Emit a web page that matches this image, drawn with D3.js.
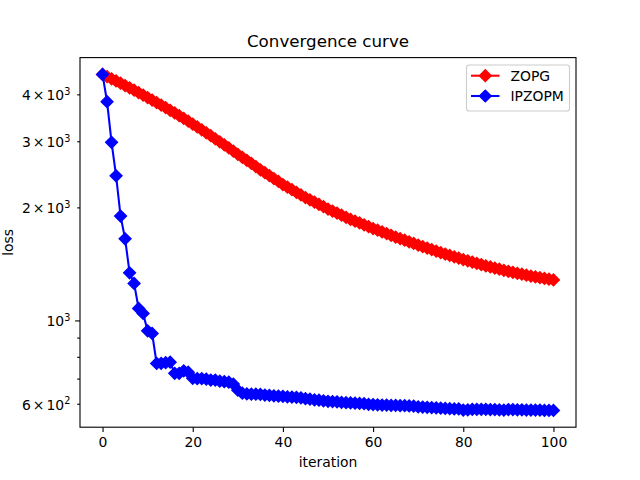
<!DOCTYPE html>
<html>
<head>
<meta charset="utf-8">
<script src="https://cdn.jsdelivr.net/npm/d3@7"></script>
<style>
  body { margin: 0; background: #fff; }
  svg { font-family: "DejaVu Sans", sans-serif; }
</style>
</head>
<body>
<svg id="chart" width="640" height="480"></svg>
<script>
// loss per iteration (iteration = array index)
const ZOPG_LOSS = [
  4520, 4460, 4401, 4341, 4282, 4222, 4162, 4102, 4042, 3982,
  3922, 3863, 3804, 3745, 3686, 3627, 3568, 3509, 3451, 3392,
  3333, 3275, 3218, 3160, 3103, 3045, 2990, 2935, 2880, 2824,
  2769, 2719, 2669, 2618, 2568, 2518, 2474, 2431, 2387, 2344,
  2300, 2265, 2230, 2194, 2159, 2124, 2095, 2066, 2037, 2008,
  1979, 1955, 1931, 1906, 1882, 1858, 1838, 1818, 1797, 1777,
  1757, 1739, 1721, 1703, 1685, 1667, 1651, 1635, 1619, 1603,
  1587, 1573, 1558, 1544, 1529, 1515, 1502, 1490, 1477, 1465,
  1452, 1441, 1430, 1419, 1408, 1397, 1388, 1379, 1369, 1360,
  1351, 1343, 1335, 1328, 1320, 1312, 1306, 1300, 1294, 1288,
  1282
];

const IPZOPM_LOSS = [
  4520, 3823, 2980, 2428, 1896, 1650, 1339, 1255, 1076, 1044,
  938, 923, 768, 769, 772, 774, 723, 723, 734, 728,
  701, 700, 700, 698, 694, 694, 689, 687, 685, 677,
  652, 640, 637, 636, 636, 635, 633, 632, 630, 629,
  628, 626, 625, 624, 622, 619, 617, 614, 613, 611,
  609, 608, 607, 605, 604, 603, 602, 601, 600, 598,
  597, 596, 595, 595, 594, 594, 593, 593, 592, 591,
  589, 588, 587, 586, 585, 584, 583, 582, 581, 581,
  577, 578, 580, 580, 580, 580, 579, 579, 578, 577,
  579, 579, 578, 578, 577, 577, 577, 577, 576, 576,
  576
];

const SERIES_NAMES = ["ZOPG", "IPZOPM"];
const SERIES_COLORS = ["#ff0000", "#0000ff"];

const X_TICKS = [0, 20, 40, 60, 80, 100];
const Y_MAJOR_TICKS = [1000];
const Y_MINOR_TICKS = [600, 700, 800, 900, 2000, 3000, 4000];
// [value, mantissa, exponent]; mantissa null -> plain power of ten
const Y_TICK_LABELS = [
  [600, "6", "2"],
  [1000, null, "3"],
  [2000, "2", "3"],
  [3000, "3", "3"],
  [4000, "4", "3"]
];

const svg = d3.select("#chart");
const plotLeft = 80, plotRight = 576, plotTop = 57.6, plotBottom = 427.2;

// matplotlib-like 5% margins (log space on y)
const allLoss = ZOPG_LOSS.concat(IPZOPM_LOSS);
const lmin = Math.log10(d3.min(allLoss)), lmax = Math.log10(d3.max(allLoss));
const pad = (lmax - lmin) * 0.05;
const yScale = d3.scaleLog()
  .domain([Math.pow(10, lmin - pad), Math.pow(10, lmax + pad)])
  .range([plotBottom, plotTop]);
const xScale = d3.scaleLinear()
  .domain([-5, 105])
  .range([plotLeft, plotRight]);

// x axis
const xAxis = svg.append("g")
  .attr("transform", `translate(0, ${plotBottom})`)
  .call(d3.axisBottom(xScale).tickValues(X_TICKS).tickSize(4.9).tickPadding(5).tickSizeOuter(0));
xAxis.select(".domain").remove();
xAxis.selectAll("line").attr("stroke", "#000").attr("stroke-width", 1.1);
xAxis.selectAll("text")
  .attr("font-family", "DejaVu Sans")
  .attr("font-size", 13.9)
  .attr("fill", "#000");

// y axis: major + minor tick lines
const yMajor = svg.append("g")
  .attr("transform", `translate(${plotLeft}, 0)`)
  .call(d3.axisLeft(yScale).tickValues(Y_MAJOR_TICKS).tickSize(4.9).tickFormat(""));
const yMinor = svg.append("g")
  .attr("transform", `translate(${plotLeft}, 0)`)
  .call(d3.axisLeft(yScale).tickValues(Y_MINOR_TICKS).tickSize(2.8).tickFormat(""));
for (const g of [yMajor, yMinor]) {
  g.select(".domain").remove();
  g.selectAll("line").attr("stroke", "#000").attr("stroke-width", 1.1);
}

// y tick labels with superscripts
const yLabels = svg.append("g")
  .attr("font-size", 13.9)
  .attr("text-anchor", "end");
for (const [v, m, e] of Y_TICK_LABELS) {
  const t = yLabels.append("text")
    .attr("x", plotLeft - 9.7)
    .attr("y", yScale(v) + 6);
  if (m !== null) {
    t.append("tspan").text(m);
    t.append("tspan").attr("dx", 2).text("\u00d7");
    t.append("tspan").attr("dx", 2).text("10");
  } else {
    t.append("tspan").text("10");
  }
  t.append("tspan").attr("font-size", 9.7).attr("dy", -5.5).text(e);
}

// series
const line = d3.line()
  .x((d, i) => xScale(i))
  .y(d => yScale(d));
const marker = d3.symbol().type(d3.symbolSquare).size(69.4);

[ZOPG_LOSS, IPZOPM_LOSS].forEach((data, k) => {
  const c = SERIES_COLORS[k];
  svg.append("path")
    .datum(data)
    .attr("d", line)
    .attr("fill", "none")
    .attr("stroke", c)
    .attr("stroke-width", 2.08)
    .attr("stroke-linejoin", "round");
  svg.append("g").selectAll("path")
    .data(data)
    .join("path")
    .attr("d", marker)
    .attr("transform", (d, i) => `translate(${xScale(i)}, ${yScale(d)}) rotate(45)`)
    .attr("fill", c)
    .attr("stroke", c)
    .attr("stroke-width", 1.39);
});

// frame
svg.append("rect")
  .attr("x", plotLeft).attr("y", plotTop)
  .attr("width", plotRight - plotLeft).attr("height", plotBottom - plotTop)
  .attr("fill", "none").attr("stroke", "#000").attr("stroke-width", 1.1);

// labels
svg.append("text")
  .attr("x", (plotLeft + plotRight) / 2).attr("y", 46.5)
  .attr("text-anchor", "middle").attr("font-size", 16.7)
  .text("Convergence curve");
svg.append("text")
  .attr("x", (plotLeft + plotRight) / 2).attr("y", 466.5)
  .attr("text-anchor", "middle").attr("font-size", 13.9)
  .text("iteration");
svg.append("text")
  .attr("transform", `translate(13, ${(plotTop + plotBottom) / 2}) rotate(-90)`)
  .attr("text-anchor", "middle").attr("font-size", 13.9)
  .text("loss");

// legend
const legend = svg.append("g");
legend.append("rect")
  .attr("x", 466.5).attr("y", 65)
  .attr("width", 103).attr("height", 46)
  .attr("rx", 2.8)
  .attr("fill", "#fff").attr("fill-opacity", 0.8)
  .attr("stroke", "#cccccc").attr("stroke-width", 1.1);
SERIES_NAMES.forEach((name, k) => {
  const cy = 75.7 + k * 20.3;
  const c = SERIES_COLORS[k];
  legend.append("line")
    .attr("x1", 471).attr("x2", 499.5)
    .attr("y1", cy).attr("y2", cy)
    .attr("stroke", c).attr("stroke-width", 2.08);
  legend.append("path")
    .attr("d", marker)
    .attr("transform", `translate(485.3, ${cy}) rotate(45)`)
    .attr("fill", c).attr("stroke", c).attr("stroke-width", 1.39);
  legend.append("text")
    .attr("x", 510.5).attr("y", cy + 5)
    .attr("font-size", 13.9)
    .text(name);
});
</script>
</body>
</html>
